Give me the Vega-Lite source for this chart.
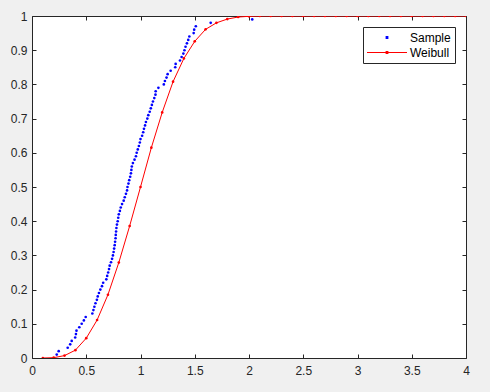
{
  "$schema": "https://vega.github.io/schema/vega-lite/v6.json",
  "width": 434,
  "height": 342,
  "autosize": {"type": "none"},
  "padding": {"left": 32, "top": 16, "right": 24, "bottom": 34},
  "background": "#f0f0f0",
  "config": {
    "view": {"fill": "white", "stroke": "#262626", "strokeWidth": 1},
    "axis": {
      "domain": false,
      "grid": false,
      "tickSize": 4,
      "offset": -4,
      "tickColor": "#262626",
      "tickWidth": 1,
      "labelColor": "#262626",
      "labelFont": "Liberation Sans",
      "labelFontSize": 12,
      "labelFlush": false,
      "labelOverlap": false,
      "labelBound": false,
      "title": null
    }
  },
  "datasets": {
    "pts": [
      {"series": "Sample", "x": 0.228, "y": 0.01},
      {"series": "Sample", "x": 0.246, "y": 0.02},
      {"series": "Sample", "x": 0.329, "y": 0.03},
      {"series": "Sample", "x": 0.352, "y": 0.04},
      {"series": "Sample", "x": 0.366, "y": 0.05},
      {"series": "Sample", "x": 0.398, "y": 0.06},
      {"series": "Sample", "x": 0.405, "y": 0.07},
      {"series": "Sample", "x": 0.410, "y": 0.08},
      {"series": "Sample", "x": 0.436, "y": 0.09},
      {"series": "Sample", "x": 0.458, "y": 0.10},
      {"series": "Sample", "x": 0.478, "y": 0.11},
      {"series": "Sample", "x": 0.495, "y": 0.12},
      {"series": "Sample", "x": 0.556, "y": 0.13},
      {"series": "Sample", "x": 0.566, "y": 0.14},
      {"series": "Sample", "x": 0.575, "y": 0.15},
      {"series": "Sample", "x": 0.585, "y": 0.16},
      {"series": "Sample", "x": 0.598, "y": 0.17},
      {"series": "Sample", "x": 0.606, "y": 0.18},
      {"series": "Sample", "x": 0.617, "y": 0.19},
      {"series": "Sample", "x": 0.630, "y": 0.20},
      {"series": "Sample", "x": 0.645, "y": 0.21},
      {"series": "Sample", "x": 0.656, "y": 0.22},
      {"series": "Sample", "x": 0.685, "y": 0.23},
      {"series": "Sample", "x": 0.693, "y": 0.24},
      {"series": "Sample", "x": 0.702, "y": 0.25},
      {"series": "Sample", "x": 0.710, "y": 0.26},
      {"series": "Sample", "x": 0.716, "y": 0.27},
      {"series": "Sample", "x": 0.728, "y": 0.28},
      {"series": "Sample", "x": 0.738, "y": 0.29},
      {"series": "Sample", "x": 0.746, "y": 0.30},
      {"series": "Sample", "x": 0.752, "y": 0.31},
      {"series": "Sample", "x": 0.757, "y": 0.32},
      {"series": "Sample", "x": 0.762, "y": 0.33},
      {"series": "Sample", "x": 0.766, "y": 0.34},
      {"series": "Sample", "x": 0.770, "y": 0.35},
      {"series": "Sample", "x": 0.772, "y": 0.36},
      {"series": "Sample", "x": 0.775, "y": 0.37},
      {"series": "Sample", "x": 0.778, "y": 0.38},
      {"series": "Sample", "x": 0.783, "y": 0.39},
      {"series": "Sample", "x": 0.790, "y": 0.40},
      {"series": "Sample", "x": 0.795, "y": 0.41},
      {"series": "Sample", "x": 0.800, "y": 0.42},
      {"series": "Sample", "x": 0.810, "y": 0.43},
      {"series": "Sample", "x": 0.818, "y": 0.44},
      {"series": "Sample", "x": 0.830, "y": 0.45},
      {"series": "Sample", "x": 0.845, "y": 0.46},
      {"series": "Sample", "x": 0.855, "y": 0.47},
      {"series": "Sample", "x": 0.866, "y": 0.48},
      {"series": "Sample", "x": 0.876, "y": 0.49},
      {"series": "Sample", "x": 0.880, "y": 0.50},
      {"series": "Sample", "x": 0.889, "y": 0.51},
      {"series": "Sample", "x": 0.896, "y": 0.52},
      {"series": "Sample", "x": 0.905, "y": 0.53},
      {"series": "Sample", "x": 0.912, "y": 0.54},
      {"series": "Sample", "x": 0.916, "y": 0.55},
      {"series": "Sample", "x": 0.920, "y": 0.56},
      {"series": "Sample", "x": 0.930, "y": 0.57},
      {"series": "Sample", "x": 0.945, "y": 0.58},
      {"series": "Sample", "x": 0.958, "y": 0.59},
      {"series": "Sample", "x": 0.965, "y": 0.60},
      {"series": "Sample", "x": 0.975, "y": 0.61},
      {"series": "Sample", "x": 0.985, "y": 0.62},
      {"series": "Sample", "x": 0.994, "y": 0.63},
      {"series": "Sample", "x": 1.000, "y": 0.64},
      {"series": "Sample", "x": 1.015, "y": 0.65},
      {"series": "Sample", "x": 1.025, "y": 0.66},
      {"series": "Sample", "x": 1.032, "y": 0.67},
      {"series": "Sample", "x": 1.042, "y": 0.68},
      {"series": "Sample", "x": 1.050, "y": 0.69},
      {"series": "Sample", "x": 1.063, "y": 0.70},
      {"series": "Sample", "x": 1.072, "y": 0.71},
      {"series": "Sample", "x": 1.085, "y": 0.72},
      {"series": "Sample", "x": 1.095, "y": 0.73},
      {"series": "Sample", "x": 1.105, "y": 0.74},
      {"series": "Sample", "x": 1.115, "y": 0.75},
      {"series": "Sample", "x": 1.127, "y": 0.76},
      {"series": "Sample", "x": 1.138, "y": 0.77},
      {"series": "Sample", "x": 1.140, "y": 0.78},
      {"series": "Sample", "x": 1.165, "y": 0.79},
      {"series": "Sample", "x": 1.215, "y": 0.80},
      {"series": "Sample", "x": 1.225, "y": 0.81},
      {"series": "Sample", "x": 1.240, "y": 0.82},
      {"series": "Sample", "x": 1.250, "y": 0.83},
      {"series": "Sample", "x": 1.278, "y": 0.84},
      {"series": "Sample", "x": 1.320, "y": 0.85},
      {"series": "Sample", "x": 1.324, "y": 0.86},
      {"series": "Sample", "x": 1.364, "y": 0.87},
      {"series": "Sample", "x": 1.379, "y": 0.88},
      {"series": "Sample", "x": 1.395, "y": 0.89},
      {"series": "Sample", "x": 1.405, "y": 0.90},
      {"series": "Sample", "x": 1.415, "y": 0.91},
      {"series": "Sample", "x": 1.428, "y": 0.92},
      {"series": "Sample", "x": 1.440, "y": 0.93},
      {"series": "Sample", "x": 1.450, "y": 0.94},
      {"series": "Sample", "x": 1.490, "y": 0.95},
      {"series": "Sample", "x": 1.495, "y": 0.96},
      {"series": "Sample", "x": 1.510, "y": 0.97},
      {"series": "Sample", "x": 1.647, "y": 0.98},
      {"series": "Sample", "x": 2.030, "y": 0.99},
      {"series": "Weibull", "x": 0.1, "y": 0.0},
      {"series": "Weibull", "x": 0.2, "y": 0.001},
      {"series": "Weibull", "x": 0.3, "y": 0.007},
      {"series": "Weibull", "x": 0.4, "y": 0.023},
      {"series": "Weibull", "x": 0.5, "y": 0.058},
      {"series": "Weibull", "x": 0.6, "y": 0.111},
      {"series": "Weibull", "x": 0.7, "y": 0.185},
      {"series": "Weibull", "x": 0.8, "y": 0.279},
      {"series": "Weibull", "x": 0.9, "y": 0.386},
      {"series": "Weibull", "x": 1.0, "y": 0.5},
      {"series": "Weibull", "x": 1.1, "y": 0.615},
      {"series": "Weibull", "x": 1.2, "y": 0.718},
      {"series": "Weibull", "x": 1.3, "y": 0.808},
      {"series": "Weibull", "x": 1.4, "y": 0.876},
      {"series": "Weibull", "x": 1.5, "y": 0.926},
      {"series": "Weibull", "x": 1.6, "y": 0.961},
      {"series": "Weibull", "x": 1.7, "y": 0.98},
      {"series": "Weibull", "x": 1.8, "y": 0.991},
      {"series": "Weibull", "x": 1.9, "y": 0.997},
      {"series": "Weibull", "x": 2.0, "y": 0.999},
      {"series": "Weibull", "x": 2.1, "y": 1.0},
      {"series": "Weibull", "x": 2.2, "y": 1.0},
      {"series": "Weibull", "x": 2.3, "y": 1.0},
      {"series": "Weibull", "x": 2.4, "y": 1.0},
      {"series": "Weibull", "x": 2.5, "y": 1.0},
      {"series": "Weibull", "x": 2.6, "y": 1.0},
      {"series": "Weibull", "x": 2.7, "y": 1.0},
      {"series": "Weibull", "x": 2.8, "y": 1.0},
      {"series": "Weibull", "x": 2.9, "y": 1.0},
      {"series": "Weibull", "x": 3.0, "y": 1.0},
      {"series": "Weibull", "x": 3.1, "y": 1.0},
      {"series": "Weibull", "x": 3.2, "y": 1.0},
      {"series": "Weibull", "x": 3.3, "y": 1.0},
      {"series": "Weibull", "x": 3.4, "y": 1.0},
      {"series": "Weibull", "x": 3.5, "y": 1.0},
      {"series": "Weibull", "x": 3.6, "y": 1.0},
      {"series": "Weibull", "x": 3.7, "y": 1.0},
      {"series": "Weibull", "x": 3.8, "y": 1.0},
      {"series": "Weibull", "x": 3.9, "y": 1.0},
      {"series": "Weibull", "x": 4.0, "y": 1.0}
    ]
  },
  "data": {"name": "pts"},
  "layer": [
    {
      "transform": [{"filter": "datum.series === 'Weibull'"}],
      "mark": {"type": "line", "color": "#ff0000", "strokeWidth": 1, "clip": true},
      "encoding": {
        "x": {
          "field": "x", "type": "quantitative",
          "scale": {"domain": [0, 4], "nice": false, "zero": false},
          "axis": {"orient": "bottom", "values": [0, 0.5, 1, 1.5, 2, 2.5, 3, 3.5, 4], "format": "~g", "labelPadding": 7}
        },
        "y": {
          "field": "y", "type": "quantitative",
          "scale": {"domain": [0, 1], "nice": false},
          "axis": {"orient": "left", "values": [0, 0.1, 0.2, 0.3, 0.4, 0.5, 0.6, 0.7, 0.8, 0.9, 1], "format": "~g", "labelPadding": 5}
        }
      }
    },
    {
      "mark": {"type": "point", "filled": true, "size": 7, "opacity": 1, "clip": true},
      "encoding": {
        "x": {
          "field": "x", "type": "quantitative",
          "axis": {"orient": "top", "values": [0, 0.5, 1, 1.5, 2, 2.5, 3, 3.5, 4], "labels": false}
        },
        "y": {
          "field": "y", "type": "quantitative",
          "axis": {"orient": "right", "values": [0, 0.1, 0.2, 0.3, 0.4, 0.5, 0.6, 0.7, 0.8, 0.9, 1], "labels": false}
        },
        "color": {
          "field": "series", "type": "nominal",
          "scale": {"domain": ["Sample", "Weibull"], "range": ["#0000ff", "#ff0000"]},
          "legend": {
            "title": null,
            "orient": "none",
            "legendX": 331,
            "legendY": 11,
            "padding": 4,
            "strokeColor": "#262626",
            "fillColor": "white",
            "symbolSize": 1600,
            "symbolStrokeWidth": 0,
            "clipHeight": 13,
            "rowPadding": 2,
            "labelOffset": 3,
            "labelFont": "Liberation Sans",
            "labelFontSize": 12,
            "labelColor": "#000000",
            "symbolType": {"expr": "datum.value === 'Weibull' ? 'M-1,-0.025H1V0.025H-1Z M-0.07,-0.07H0.07V0.07H-0.07Z' : 'M-0.07,-0.07H0.07V0.07H-0.07Z'"}
          }
        }
      }
    }
  ],
  "resolve": {"axis": {"x": "independent", "y": "independent"}}
}
